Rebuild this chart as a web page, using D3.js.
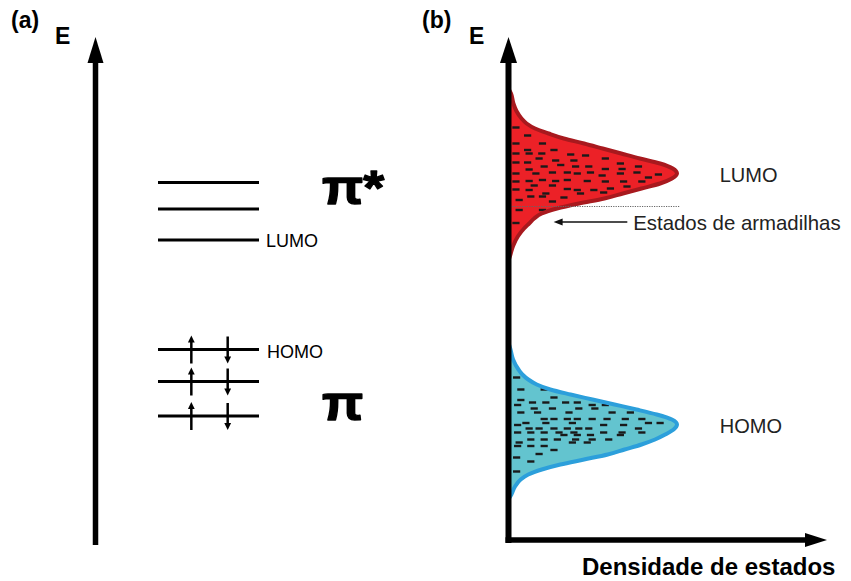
<!DOCTYPE html>
<html>
<head>
<meta charset="utf-8">
<script src="https://cdn.jsdelivr.net/npm/d3@7"></script>
<style>
  html, body { margin: 0; padding: 0; background: #fff; }
  svg { display: block; font-family: "Liberation Sans", Arial, sans-serif; }
</style>
</head>
<body>
<svg id="chart" width="851" height="581"></svg>
<script>
// ---- Panel (a): molecular orbital levels (energy, arbitrary units) ----
const piStarLevels = [71.7, 66.4, 60.2];   // last one is the LUMO
const piLevels = [38.3, 31.9, 25.0];       // first one is the HOMO
const spinSlots = [0.33, 0.69];            // horizontal slot of the up / down electron
const spinDirs = ["up", "down"];
const levelLabelsA = ["LUMO", "HOMO"];
const bandSymbols = ["π*", "π"];

// ---- Panel (b): density of states vs energy ----
const lumoEnergy = [55.8, 57.0, 59.0, 61.0, 62.5, 63.5, 64.5, 65.5, 66.5, 67.5, 68.5, 69.5, 70.5, 71.5, 72.5,
  73.5, 74.5, 75.5, 76.5, 77.5, 78.5, 79.5, 80.5, 81.5, 82.5, 83.5, 84.5, 86.0, 87.5, 89.5, 90.6];
const lumoDensity = [0, 0.012, 0.03, 0.06, 0.095, 0.125, 0.155, 0.2, 0.29, 0.42, 0.57, 0.68, 0.79, 0.9, 0.97,
  1, 0.975, 0.9, 0.78, 0.67, 0.56, 0.45, 0.33, 0.24, 0.16, 0.11, 0.08, 0.05, 0.032, 0.018, 0];

const homoEnergy = [8.2, 9.3, 10.8, 12.3, 13.3, 14.3, 15.3, 16.3, 17.3, 18.3, 19.3, 20.3, 21.3, 22.3,
  23.3, 24.3, 25.3, 26.3, 27.3, 28.3, 29.3, 30.3, 31.3, 32.3, 33.3, 34.3, 36.3, 38.3, 40.0];
const homoDensity = [0, 0.02, 0.04, 0.075, 0.12, 0.2, 0.31, 0.45, 0.59, 0.69, 0.79, 0.87, 0.93, 0.98,
  1, 0.97, 0.88, 0.76, 0.63, 0.5, 0.37, 0.25, 0.17, 0.12, 0.085, 0.062, 0.03, 0.015, 0];

// occupied / localized states drawn as short dashes: [density, energy]
const lumoStates = [
  [0.047, 82.7], [0.116, 81.1], [0.047, 79.5], [0.204, 79.5], [0.116, 78.2], [0.272, 78.2],
  [0.047, 77.5], [0.125, 77.5], [0.2, 77.5], [0.371, 77.3], [0.459, 77.1],
  [0.184, 76.5], [0.576, 76.5],
  [0.047, 75.7], [0.116, 75.7], [0.282, 76.1], [0.39, 76.1], [0.665, 75.5],
  [0.214, 74.9], [0.312, 75.2], [0.4, 74.9], [0.478, 74.9], [0.772, 74.9],
  [0.125, 74.3], [0.576, 74.4], [0.675, 74.4],
  [0.047, 73.5], [0.165, 73.5], [0.263, 73.7], [0.351, 73.7], [0.41, 73.5], [0.488, 73.7], [0.665, 73.5], [0.763, 73.7], [0.89, 73.3],
  [0.557, 73.1], [0.831, 72.7],
  [0.047, 71.9], [0.125, 72.0], [0.204, 72.2], [0.282, 72.0], [0.351, 72.2], [0.469, 72.0], [0.576, 71.9], [0.684, 71.9], [0.792, 71.9],
  [0.155, 71.1], [0.263, 71.1], [0.704, 70.9],
  [0.047, 70.3], [0.125, 70.2], [0.351, 70.4], [0.41, 70.2], [0.508, 70.2], [0.606, 70.5],
  [0.224, 69.5], [0.429, 69.5], [0.566, 69.7],
  [0.135, 68.9], [0.204, 68.9], [0.331, 68.7],
  [0.066, 68.2], [0.263, 67.9],
  [0.066, 66.2], [0.204, 66.2],
  [0.047, 63.6]
];
const homoStates = [
  [0.051, 32.7],
  [0.076, 30.3], [0.214, 30.3],
  [0.272, 28.7],
  [0.076, 28.2],
  [0.145, 27.7], [0.224, 27.7], [0.341, 27.7], [0.41, 27.7],
  [0.057, 27.2], [0.498, 27.2], [0.576, 27.2],
  [0.155, 26.5], [0.263, 26.5], [0.419, 26.5], [0.514, 26.5],
  [0.076, 25.7], [0.175, 25.7], [0.361, 25.7], [0.616, 25.7], [0.724, 25.7],
  [0.214, 24.4], [0.272, 24.4], [0.351, 24.4], [0.41, 24.4], [0.498, 24.4], [0.586, 24.4], [0.694, 24.4], [0.792, 24.4],
  [0.106, 23.6], [0.224, 23.6], [0.381, 23.6], [0.831, 23.6], [0.9, 23.6],
  [0.057, 23.2], [0.566, 23.2], [0.684, 23.2],
  [0.125, 22.5], [0.184, 22.5], [0.272, 22.5], [0.351, 22.5], [0.419, 22.5], [0.478, 22.5], [0.772, 22.5],
  [0.057, 21.7], [0.135, 21.7], [0.214, 21.7], [0.302, 21.7], [0.39, 21.7], [0.566, 21.7], [0.675, 21.7], [0.792, 21.7],
  [0.331, 21.2], [0.41, 21.2], [0.488, 21.2], [0.665, 21.2],
  [0.135, 20.3], [0.214, 20.3], [0.292, 20.3], [0.4, 20.3], [0.498, 20.3], [0.596, 20.3],
  [0.066, 19.7], [0.381, 19.7], [0.469, 19.7],
  [0.057, 19.0], [0.135, 19.0], [0.214, 19.0],
  [0.272, 18.2],
  [0.184, 17.4],
  [0.051, 16.7],
  [0.135, 15.9],
  [0.051, 13.9]
];
const trapEdgeEnergy = 66.9;     // dotted line: lower edge of the band
const trapArrowEnergy = 63.8;    // pointer to the tail states
const bandLabelsB = ["LUMO", "HOMO"];
const trapLabel = "Estados de armadilhas";
const xAxisTitle = "Densidade de estados";
const yAxisTitle = "E";
const panelTags = ["(a)", "(b)"];

// ---- scales ----
const svg = d3.select("#chart");
const yE = d3.scaleLinear().domain([0, 100]).range([541, 41]);     // shared energy axis
const xA = d3.scaleLinear().domain([0, 1]).range([158, 259]);      // level line span, panel (a)
const xB = d3.scaleLinear().domain([0, 1]).range([508, 677]);      // density of states, panel (b)

const ink = "#000";

function arrowUp(g, x, yTop, yBot, w, halfHead, headLen) {
  g.append("line").attr("x1", x).attr("x2", x).attr("y1", yBot).attr("y2", yTop + headLen - 1)
    .attr("stroke", ink).attr("stroke-width", w);
  g.append("path").attr("d", `M${x},${yTop} L${x - halfHead},${yTop + headLen} L${x + halfHead},${yTop + headLen} Z`).attr("fill", ink);
}
function arrowDown(g, x, yTop, yBot, w, halfHead, headLen) {
  g.append("line").attr("x1", x).attr("x2", x).attr("y1", yTop).attr("y2", yBot - headLen + 1)
    .attr("stroke", ink).attr("stroke-width", w);
  g.append("path").attr("d", `M${x},${yBot} L${x - halfHead},${yBot - headLen} L${x + halfHead},${yBot - headLen} Z`).attr("fill", ink);
}

// ================= Panel (a) =================
const ga = svg.append("g");
ga.append("text").attr("x", 11).attr("y", 28).attr("font-size", 23).attr("font-weight", "bold").text(panelTags[0]);
ga.append("text").attr("x", 55).attr("y", 44).attr("font-size", 23).attr("font-weight", "bold").text(yAxisTitle);
arrowUp(ga, 95.5, 37, yE(0) + 4, 5.5, 8, 26);

const allLevels = piStarLevels.concat(piLevels);
ga.selectAll("line.level").data(allLevels).join("line").attr("class", "level")
  .attr("x1", xA(0)).attr("x2", xA(1))
  .attr("y1", d => yE(d)).attr("y2", d => yE(d))
  .attr("stroke", ink).attr("stroke-width", 3);

// paired electrons on the filled π levels
piLevels.forEach(level => {
  const y = yE(level);
  spinSlots.forEach((s, i) => {
    if (spinDirs[i] === "up") arrowUp(ga, xA(s), y - 14, y + 14, 2.5, 3.4, 7);
    else arrowDown(ga, xA(s), y - 13, y + 14, 2.5, 3.4, 7);
  });
});

ga.append("text").attr("x", xA(1) + 7).attr("y", yE(piStarLevels[2]) + 6.5)
  .attr("font-size", 18).text(levelLabelsA[0]);
ga.append("text").attr("x", xA(1) + 8).attr("y", yE(piLevels[0]) + 8.5)
  .attr("font-size", 18).text(levelLabelsA[1]);

// band symbols, widened heavy glyphs
function bandSymbol(txt, x, y) {
  ga.append("text").attr("transform", `translate(${x},${y}) scale(1.1,1)`)
    .attr("font-size", 49).attr("font-weight", "bold")
    .attr("stroke", ink).attr("stroke-width", 1.3).attr("stroke-linejoin", "round")
    .text(txt);
}
bandSymbol(bandSymbols[0], xA(1) + 63, yE(piStarLevels[1]) - 5);
bandSymbol(bandSymbols[1], xA(1) + 63, yE(piLevels[2]) + 4);

// ================= Panel (b) =================
const gb = svg.append("g");
gb.append("text").attr("x", 422).attr("y", 28).attr("font-size", 23).attr("font-weight", "bold").text(panelTags[1]);
gb.append("text").attr("x", 469).attr("y", 44).attr("font-size", 23).attr("font-weight", "bold").text(yAxisTitle);

function band(energy, density, states, fill, outline) {
  const pts = energy.map((e, i) => [density[i], e]);
  const area = d3.area().curve(d3.curveMonotoneY)
    .y(d => yE(d[1])).x0(xB(0)).x1(d => xB(d[0]));
  const line = d3.line().curve(d3.curveMonotoneY)
    .y(d => yE(d[1])).x(d => xB(d[0]));
  gb.append("path").datum(pts).attr("d", area).attr("fill", fill);
  gb.selectAll(null).data(states).join("rect")
    .attr("x", d => xB(d[0]) - 3.6).attr("y", d => yE(d[1]) - 1.2)
    .attr("width", 7.2).attr("height", 2.4).attr("fill", "#1a1a1a");
  gb.append("path").datum(pts).attr("d", line).attr("fill", "none")
    .attr("stroke", outline).attr("stroke-width", 4).attr("stroke-linejoin", "round");
}
band(lumoEnergy, lumoDensity, lumoStates, "#ec2127", "#a8191e");
band(homoEnergy, homoDensity, homoStates, "#63c4cf", "#2c9fdb");

// trap states marker
gb.append("line").attr("x1", xB(0) + 2).attr("x2", xB(1.02))
  .attr("y1", yE(trapEdgeEnergy)).attr("y2", yE(trapEdgeEnergy))
  .attr("stroke", "#666").attr("stroke-width", 1).attr("stroke-dasharray", "1.2,1.2");
{
  const y = yE(trapArrowEnergy), x0 = xB(0.27), x1 = xB(0.706);
  gb.append("line").attr("x1", x0 + 7).attr("x2", x1).attr("y1", y).attr("y2", y)
    .attr("stroke", "#111").attr("stroke-width", 1.5);
  gb.append("path").attr("d", `M${x0},${y} L${x0 + 9},${y - 3.5} L${x0 + 9},${y + 3.5} Z`).attr("fill", "#111");
  gb.append("text").attr("x", xB(0.741)).attr("y", y + 8).attr("font-size", 20.4)
    .attr("fill", "#222").text(trapLabel);
}

gb.append("text").attr("x", xB(1.253)).attr("y", yE(73.5) + 8.5).attr("font-size", 20).attr("fill", "#222").text(bandLabelsB[0]);
gb.append("text").attr("x", xB(1.253)).attr("y", yE(23.3) + 8.5).attr("font-size", 20).attr("fill", "#222").text(bandLabelsB[1]);

// axes
arrowUp(gb, 508.5, 37, yE(0) + 2, 6, 8.5, 26);
{
  const y = yE(0) - 1, xEnd = 827;
  gb.append("line").attr("x1", 505.5).attr("x2", xEnd - 20).attr("y1", y).attr("y2", y)
    .attr("stroke", ink).attr("stroke-width", 5.5);
  gb.append("path").attr("d", `M${xEnd},${y} L${xEnd - 22},${y - 7} L${xEnd - 22},${y + 7} Z`).attr("fill", ink);
}
gb.append("text").attr("x", 582).attr("y", 575).attr("font-size", 24).attr("font-weight", "bold").text(xAxisTitle);
</script>
</body>
</html>
